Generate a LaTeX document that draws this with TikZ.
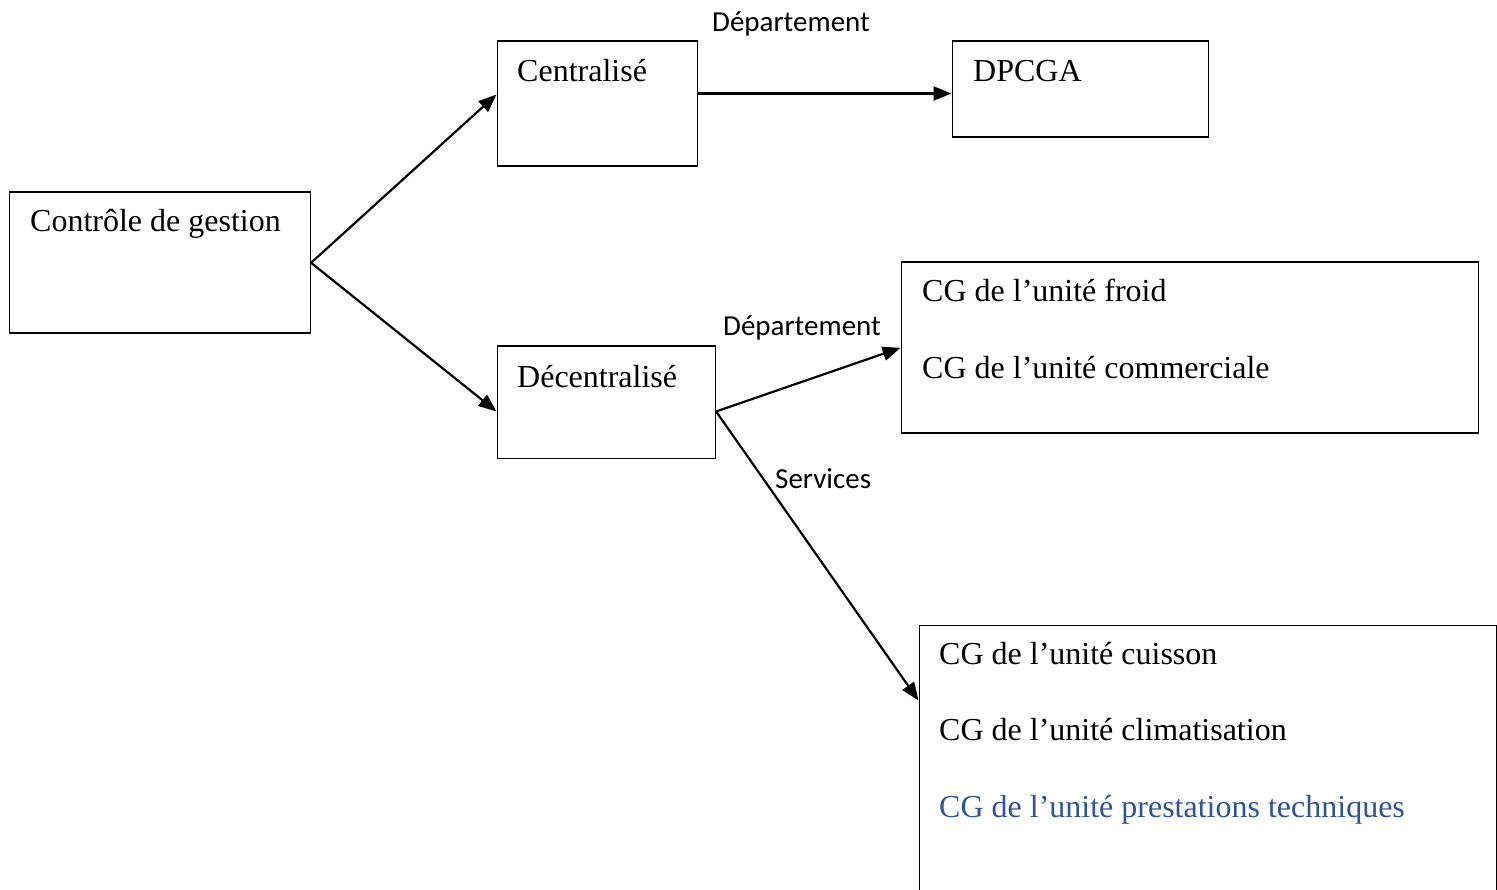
\documentclass[tikz,border=0pt]{standalone}
\usepackage{fontspec}
\setmainfont{Liberation Serif}
\newfontfamily\labelfont{Carlito}
\usetikzlibrary{calc,arrows.meta}
\definecolor{accentblue}{HTML}{2F5496}
\tikzset{
  box/.style={draw, line width=1.6pt, inner sep=0pt, anchor=north west},
  boxtext/.style={font=\fontsize{32}{37}\selectfont, anchor=base west, inner sep=0pt},
  edgetext/.style={font=\labelfont\fontsize{29}{34}\selectfont, anchor=base west, inner sep=0pt},
  arr/.style={line width=2.2pt, -{Triangle[length=18pt,width=14pt]}}
}
\begin{document}
\begin{tikzpicture}[x=1pt,y=-1pt]
\useasboundingbox (0,0) rectangle (1497,890);
\clip (0,0) rectangle (1497,890);
\fill[white] (0,0) rectangle (1497,890);

% boxes
\node[box, minimum width=301pt, minimum height=141pt] (cg) at (8.5,191.5) {};
\node[box, minimum width=200pt, minimum height=125pt] (cen) at (496.5,40.5) {};
\node[box, minimum width=256pt, minimum height=96pt] (dp) at (951.5,40.5) {};
\node[box, minimum width=218pt, minimum height=112pt] (dec) at (496.5,345.5) {};
\node[box, minimum width=577pt, minimum height=171pt] (fr) at (900.5,261.5) {};
\node[box, minimum width=577pt, minimum height=300pt] (cu) at (918.5,624.5) {};

% box texts
\node[boxtext] (tcg) at (30,232) {Contrôle de gestion};
\node[boxtext] (tcen) at (517,82) {Centralisé};
\node[boxtext] (tdp) at (973,82) {DPCGA};
\node[boxtext] (tdec) at (517,388) {Décentralisé};
\node[boxtext] (tfr1) at (922,302) {CG de l’unité froid};
\node[boxtext] (tfr2) at (922,379) {CG de l’unité commerciale};
\node[boxtext] (tcu1) at (939,664) {CG de l’unité cuisson};
\node[boxtext] (tcu2) at (939,740) {CG de l’unité climatisation};
\node[boxtext, text=accentblue] (tcu3) at (939,817) {CG de l’unité prestations techniques};

% edge labels
\node[edgetext] (l1) at (712,32) {Département};
\node[edgetext] (l2) at (723,336) {Département};
\node[edgetext] (l3) at (775,488) {Services};

% connectors
\draw[arr] (cg.east) -- ($(cen.north west)+(0,54)$);
\draw[arr] (cg.east) -- ($(dec.north west)+(0,66)$);
\draw[arr] ($(cen.north east)+(0,53)$) -- ($(dp.north west)+(0,53)$);
\draw[arr] ($(dec.north east)+(0,66)$) -- (fr.west);
\draw[arr] ($(dec.north east)+(0,66)$) -- ($(cu.north west)+(0,76)$);
\end{tikzpicture}
\end{document}
